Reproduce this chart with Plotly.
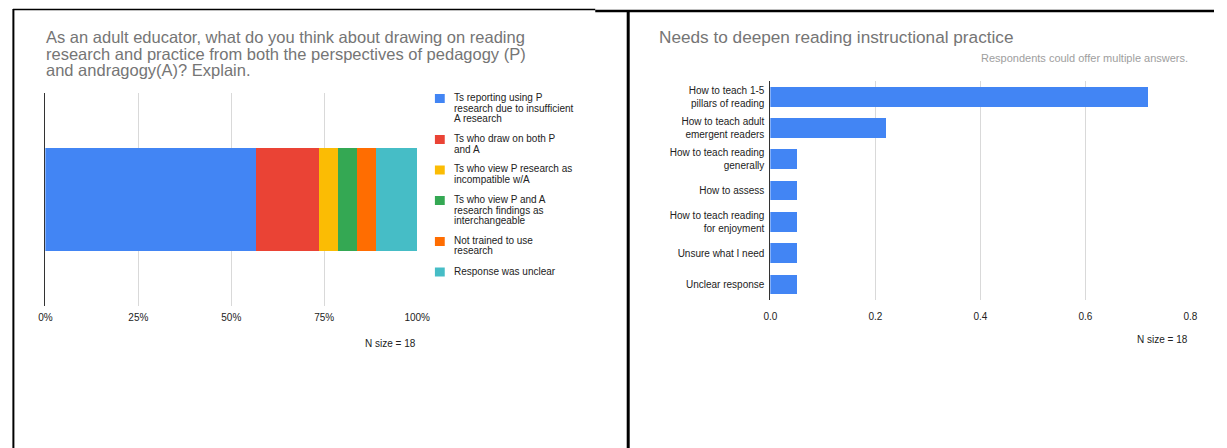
import plotly.graph_objects as go

W, H = 1227, 448

# ---- Left chart: how adult educators view P vs. A research (100% stacked) ----
left_title_lines = [
    "As an adult educator, what do you think about drawing on reading",
    "research and practice from both the perspectives of pedagogy (P)",
    "and andragogy(A)? Explain.",
]
resp_names = [
    "Ts reporting using P research due to insufficient A research",
    "Ts who draw on both P and A",
    "Ts who view P research as incompatible w/A",
    "Ts who view P and A research findings as interchangeable",
    "Not trained to use research",
    "Response was unclear",
]
resp_legend_lines = [
    ["Ts reporting using P", "research due to insufficient", "A research"],
    ["Ts who draw on both P", "and A"],
    ["Ts who view P research as", "incompatible w/A"],
    ["Ts who view P and A", "research findings as", "interchangeable"],
    ["Not trained to use", "research"],
    ["Response was unclear"],
]
resp_share = [56.7, 16.8, 5.1, 5.2, 5.2, 11.0]
resp_colors = ["#4285F4", "#EA4335", "#FBBC04", "#34A853", "#FF6D01", "#46BDC6"]
left_ticks = [0, 25, 50, 75, 100]

# ---- Right chart: needs to deepen reading instructional practice ----
right_title = "Needs to deepen reading instructional practice"
right_subtitle = "Respondents could offer multiple answers."
need_labels = [
    "How to teach 1-5<br>pillars of reading",
    "How to teach adult<br>emergent readers",
    "How to teach reading<br>generally",
    "How to assess",
    "How to teach reading<br>for enjoyment",
    "Unsure what I need",
    "Unclear response",
]
need_share = [0.72, 0.22, 0.05, 0.05, 0.05, 0.05, 0.05]
right_ticks = [0.0, 0.2, 0.4, 0.6, 0.8]
n_note = "N size = 18"

FONT = "Arial, Liberation Sans, sans-serif"
TITLE_C = "#757575"
TEXT_C = "#222222"
GRID_C = "#d9d9d9"


def px(x):
    return x / W


def py(y):
    return 1 - y / H


fig = go.Figure()

for name, val, col in zip(resp_names, resp_share, resp_colors):
    fig.add_trace(go.Bar(
        x=[val], y=[0], name=name, orientation="h",
        marker=dict(color=col, line=dict(width=0)),
        width=0.48, xaxis="x", yaxis="y", showlegend=False,
        hovertemplate=name + ": %{x}%<extra></extra>",
    ))

fig.add_trace(go.Bar(
    x=need_share, y=need_labels, orientation="h",
    marker=dict(color="#4285F4", line=dict(width=0)),
    width=0.63, xaxis="x2", yaxis="y2", showlegend=False,
))

annotations = []
# left title, one line per annotation for tight leading
for i, line in enumerate(left_title_lines):
    annotations.append(dict(
        text=line, x=px(38), y=py(37 + i * 16.5), xref="paper", yref="paper",
        xanchor="left", yanchor="middle", showarrow=False,
        font=dict(family=FONT, size=16.5, color=TITLE_C),
    ))

# legend for the stacked bar
shapes = []
ly = 97.5
for lines, col in zip(resp_legend_lines, resp_colors):
    shapes.append(dict(
        type="rect", xref="paper", yref="paper",
        x0=px(435), x1=px(445), y0=py(ly - 3.5), y1=py(ly + 5.5),
        fillcolor=col, line=dict(width=0),
    ))
    for j, t in enumerate(lines):
        annotations.append(dict(
            text=t, x=px(452), y=py(ly + j * 10.5), xref="paper", yref="paper",
            xanchor="left", yanchor="middle", showarrow=False,
            font=dict(family=FONT, size=10, color=TEXT_C),
        ))
    ly += len(lines) * 10.5 + 9.5

annotations.append(dict(
    text=n_note, x=px(390), y=py(343), xref="paper", yref="paper",
    xanchor="center", yanchor="middle", showarrow=False,
    font=dict(family=FONT, size=10, color=TEXT_C),
))

# right title and subtitle
annotations.append(dict(
    text=right_title, x=px(661), y=py(37), xref="paper", yref="paper",
    xanchor="left", yanchor="middle", showarrow=False,
    font=dict(family=FONT, size=17.2, color=TITLE_C),
))
annotations.append(dict(
    text=right_subtitle, x=px(1203), y=py(58), xref="paper", yref="paper",
    xanchor="right", yanchor="middle", showarrow=False,
    font=dict(family=FONT, size=11, color="#9e9e9e"),
))
annotations.append(dict(
    text=n_note, x=px(1203), y=py(339), xref="paper", yref="paper",
    xanchor="right", yanchor="middle", showarrow=False,
    font=dict(family=FONT, size=10, color=TEXT_C),
))

# table-cell borders
shapes += [
    dict(type="line", xref="paper", yref="paper", x0=px(6), x1=px(598),
         y0=py(9.5), y1=py(9.5), line=dict(color="black", width=1.5)),
    dict(type="line", xref="paper", yref="paper", x0=px(598), x1=1,
         y0=py(11), y1=py(11), line=dict(color="black", width=2.5)),
    dict(type="line", xref="paper", yref="paper", x0=px(6.5), x1=px(6.5),
         y0=py(9), y1=0, line=dict(color="black", width=2)),
    dict(type="line", xref="paper", yref="paper", x0=px(631.5), x1=px(631.5),
         y0=py(10), y1=0, line=dict(color="black", width=3)),
]

tickfont = dict(family=FONT, size=10, color=TEXT_C)

fig.update_layout(
    width=W, height=H,
    margin=dict(l=0, r=0, t=0, b=0),
    paper_bgcolor="white", plot_bgcolor="white",
    barmode="stack", showlegend=False,
    font=dict(family=FONT, color=TEXT_C),
    annotations=annotations, shapes=shapes,
    xaxis=dict(
        domain=[px(39), px(417)], anchor="y", range=[0, 100],
        tickvals=left_ticks, ticktext=[f"{v}%" for v in left_ticks],
        showgrid=True, gridcolor=GRID_C, gridwidth=1, zeroline=False,
        showline=False, ticks="", tickfont=tickfont, ticklabelstandoff=4,
        fixedrange=True,
    ),
    yaxis=dict(
        domain=[py(306), py(93)], anchor="x", range=[-0.5, 0.5],
        showticklabels=False, showgrid=False, zeroline=False,
        showline=True, linecolor="#333333", linewidth=1, ticks="",
        fixedrange=True,
    ),
    xaxis2=dict(
        domain=[px(776), px(1203)], anchor="y2", range=[0, 0.8],
        tickvals=right_ticks, tickformat=".1f",
        showgrid=True, gridcolor=GRID_C, gridwidth=1, zeroline=False,
        showline=False, ticks="", tickfont=tickfont, ticklabelstandoff=9,
        fixedrange=True,
    ),
    yaxis2=dict(
        domain=[py(300), py(81)], anchor="x2", autorange="reversed",
        type="category", showgrid=False, zeroline=False,
        showline=True, linecolor="#333333", linewidth=1, ticks="",
        tickfont=tickfont, ticklabelstandoff=3, fixedrange=True,
    ),
)

fig.write_html("out.html")
